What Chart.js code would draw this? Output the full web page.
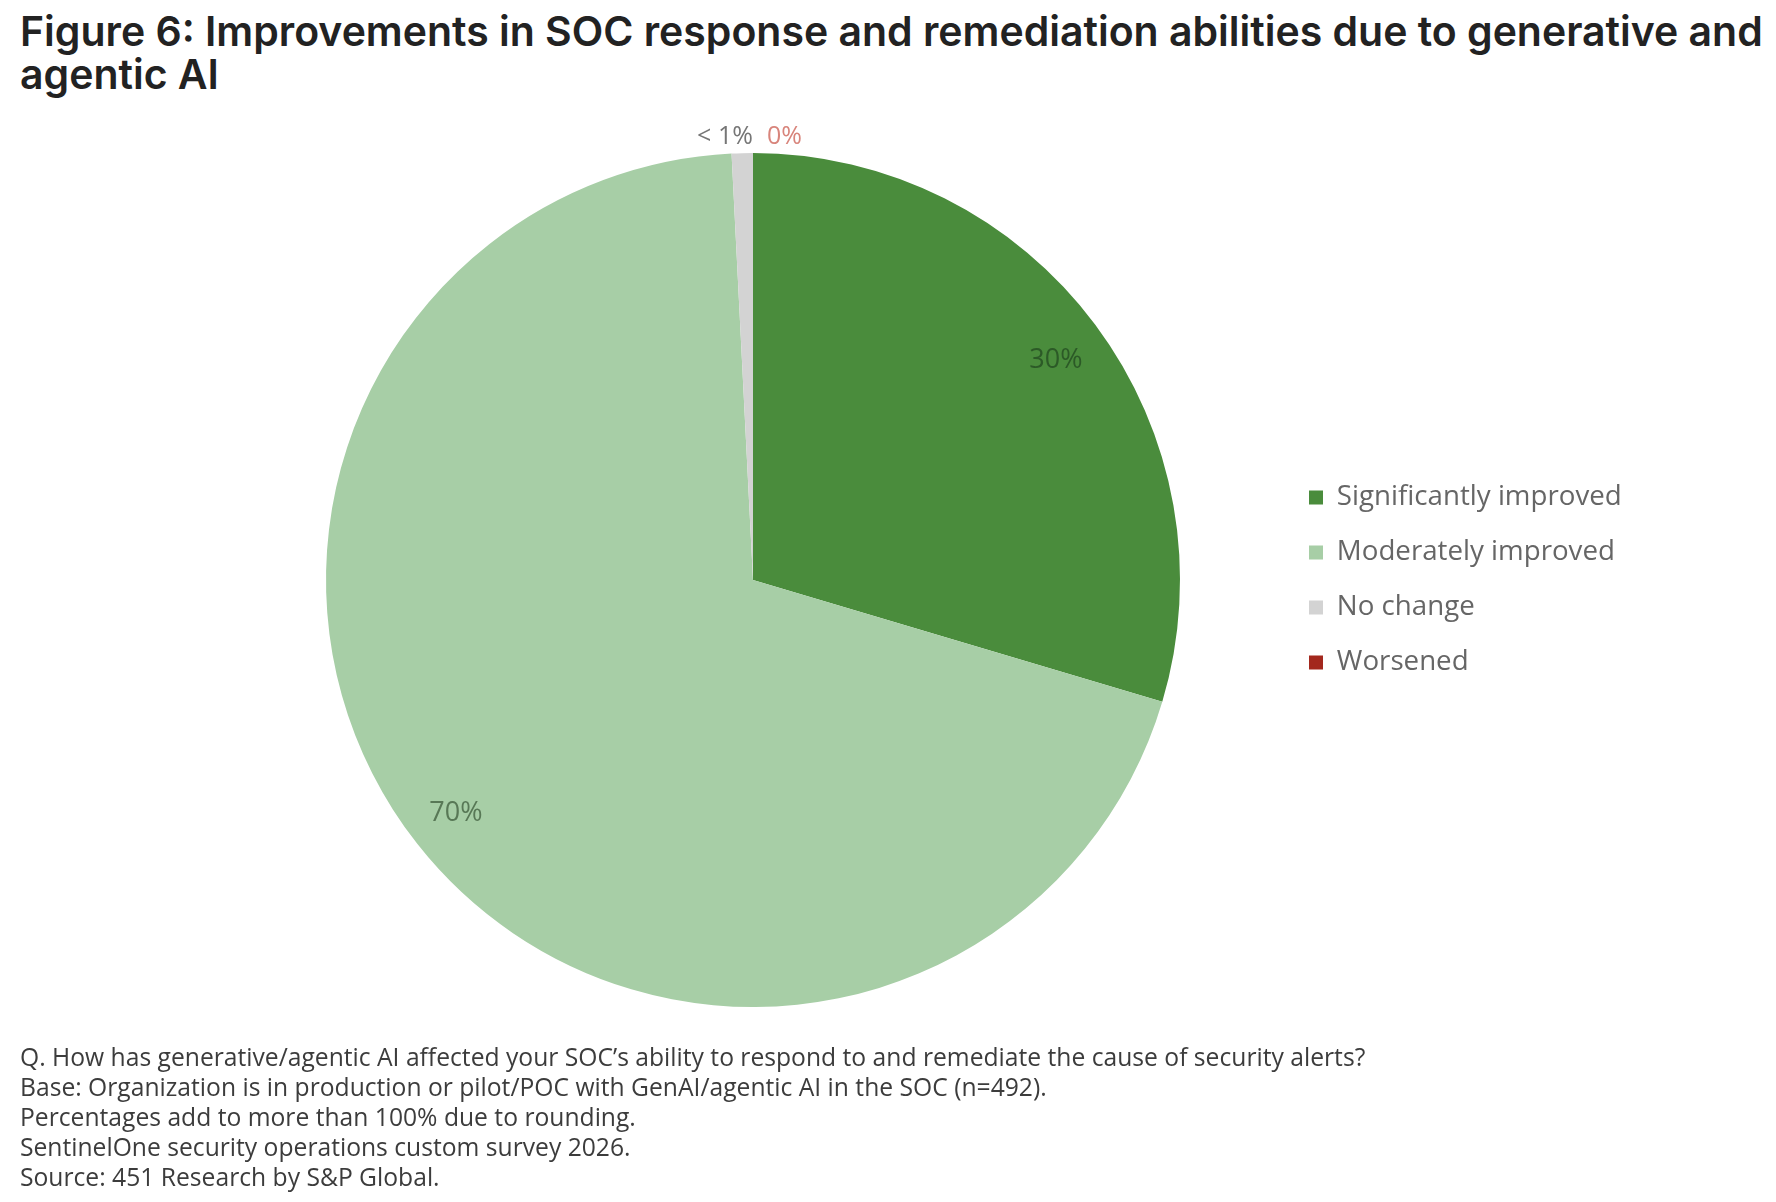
<!DOCTYPE html>
<html>
<head>
<meta charset="utf-8">
<title>Figure 6</title>
<script src="https://cdn.jsdelivr.net/npm/chart.js@4.4.1/dist/chart.umd.min.js"></script>
<style>
  html, body { margin: 0; padding: 0; background: #fff; }
  body { width: 1776px; height: 1202px; position: relative; overflow: hidden; }
  #title {
    position: absolute; left: 20px; top: 10px;
    font-family: Inter, "Open Sans", sans-serif; font-weight: 600; font-size: 34px;
    color: #222222; line-height: 43px; white-space: nowrap;
  }
  #wrap { position: absolute; left: 0; top: 0; width: 1776px; height: 1202px; }
  #notes {
    position: absolute; left: 20px; top: 1042px;
    font-family: "Open Sans", sans-serif; font-size: 20px;
    color: #3c3c3c; line-height: 30px; white-space: nowrap;
  }
</style>
</head>
<body>
<div id="title"><span id="t1">Figure 6: Improvements in SOC response and remediation abilities due to generative and</span><br><span>agentic AI</span></div>
<div id="wrap"><canvas id="chart"></canvas></div>
<div id="notes"><span id="n1">Q. How has generative/agentic AI affected your SOC’s ability to respond to and remediate the cause of security alerts?</span><br>Base: Organization is in production or pilot/POC with GenAI/agentic AI in the SOC (n=492).<br>Percentages add to more than 100% due to rounding.<br>SentinelOne security operations custom survey 2026.<br>Source: 451 Research by S&amp;P Global.</div>
<script>
// data
const categories = ['Significantly improved', 'Moderately improved', 'No change', 'Worsened'];
const shares = [29.6, 69.6, 0.8, 0];
const shareLabels = ['30%', '70%', '< 1%', '0%'];

// styles
const sliceColors = ['#4a8c3c', '#a7cea6', '#d3d3d3', '#a3281d'];
const labelColors = ['#2c5a27', '#587856', '#767676', '#d8847b'];
const labelInside = [true, true, false, false];
const labelAlign = ['center', 'center', 'right', 'left'];
const labelShift = [0, 0, 11, 14];

// scale text blocks to the widths they have in the figure
function fitFont(el, span, target) {
  const w = span.getBoundingClientRect().width;
  const s = parseFloat(getComputedStyle(el).fontSize);
  el.style.fontSize = (s * target / w) + 'px';
}
fitFont(document.getElementById('title'), document.getElementById('t1'), 1743);
fitFont(document.getElementById('notes'), document.getElementById('n1'), 1346);

const mctx = document.createElement('canvas').getContext('2d');
mctx.font = '400 27px "Open Sans"';
const legendSize = 27 * 285 / mctx.measureText(categories[0]).width;
const legendPad = 55 - legendSize;

// pie centre 753,580 radius 427, legend boxes start at x 1309
const cx = 753, cy = 580, radius = 427;
const chartRight = 1309 - legendPad;
const chartLeft = 2 * cx - chartRight;
const legendWidth = 1776 - chartRight;

const legendWidthFix = {
  id: 'legendWidthFix',
  beforeInit(chart) {
    const fit = chart.legend.fit;
    chart.legend.fit = function () {
      fit.call(this);
      this.width = legendWidth;
    };
  }
};

const sliceLabels = {
  id: 'sliceLabels',
  afterDatasetsDraw(chart) {
    const ctx = chart.ctx;
    chart.getDatasetMeta(0).data.forEach((arc, i) => {
      const p = arc.getProps(['x', 'y', 'startAngle', 'endAngle', 'outerRadius'], true);
      const mid = (p.startAngle + p.endAngle) / 2;
      const r = labelInside[i] ? p.outerRadius * 0.885 : p.outerRadius + 16;
      const x = p.x + Math.cos(mid) * r + labelShift[i];
      const y = p.y + Math.sin(mid) * r + (i === 0 ? 6 : 0);
      ctx.save();
      ctx.font = (labelInside[i] ? '27px' : '25px') + ' "Open Sans"';
      ctx.fillStyle = labelColors[i];
      ctx.textAlign = labelAlign[i];
      ctx.textBaseline = 'middle';
      ctx.fillText(shareLabels[i], x, y);
      ctx.restore();
    });
  }
};

new Chart(document.getElementById('chart'), {
  type: 'pie',
  data: {
    labels: categories,
    datasets: [{
      data: shares,
      backgroundColor: sliceColors,
      borderWidth: 0
    }]
  },
  options: {
    responsive: true,
    maintainAspectRatio: false,
    animation: false,
    radius: radius,
    layout: {
      padding: { left: chartLeft, right: 0, top: cy - radius, bottom: 1202 - (cy + radius) }
    },
    plugins: {
      tooltip: { enabled: false },
      legend: {
        position: 'right',
        align: 'center',
        labels: {
          boxWidth: 14,
          boxHeight: 14,
          padding: legendPad,
          color: '#666666',
          font: { family: '"Open Sans"', size: legendSize }
        }
      }
    }
  },
  plugins: [legendWidthFix, sliceLabels]
});
</script>
</body>
</html>
